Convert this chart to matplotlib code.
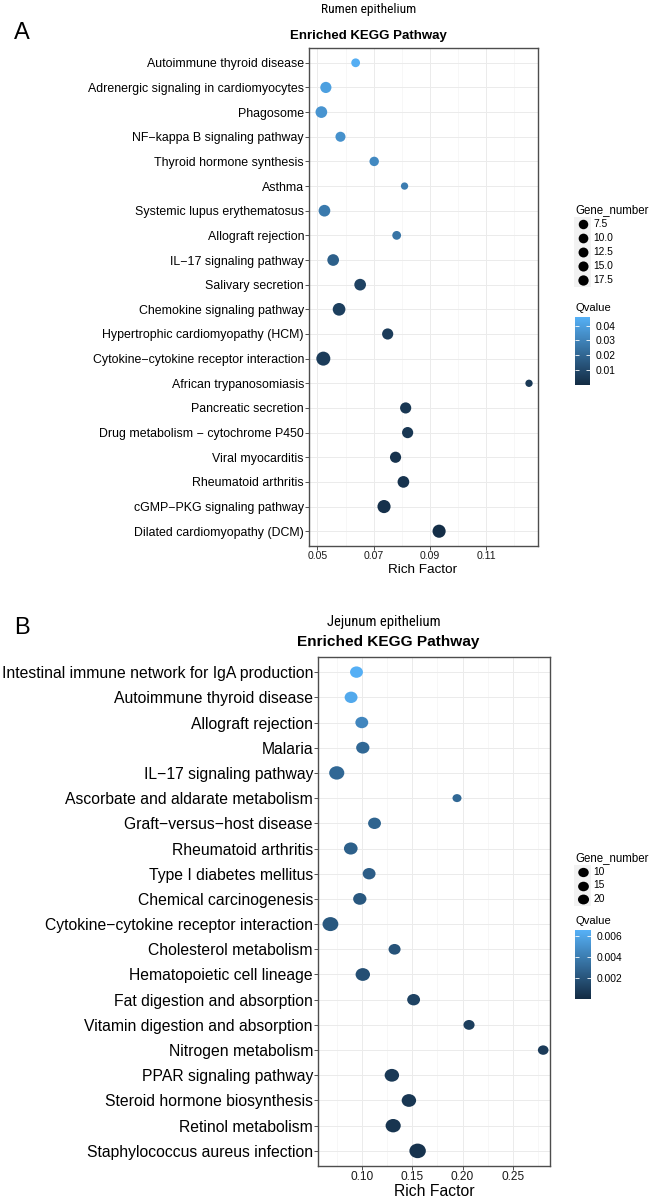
import matplotlib
matplotlib.use('Agg')
import matplotlib.pyplot as plt
import numpy as np
from matplotlib.colors import LinearSegmentedColormap, Normalize
from matplotlib.markers import MarkerStyle
from matplotlib.path import Path
from matplotlib.transforms import Affine2D
from matplotlib.cm import ScalarMappable
from matplotlib.patches import Rectangle
from matplotlib import font_manager

# ---------------- data ----------------
pathways_a = [
    "Autoimmune thyroid disease",
    "Adrenergic signaling in cardiomyocytes",
    "Phagosome",
    "NF\u2212kappa B signaling pathway",
    "Thyroid hormone synthesis",
    "Asthma",
    "Systemic lupus erythematosus",
    "Allograft rejection",
    "IL\u221217 signaling pathway",
    "Salivary secretion",
    "Chemokine signaling pathway",
    "Hypertrophic cardiomyopathy (HCM)",
    "Cytokine\u2212cytokine receptor interaction",
    "African trypanosomiasis",
    "Pancreatic secretion",
    "Drug metabolism \u2212 cytochrome P450",
    "Viral myocarditis",
    "Rheumatoid arthritis",
    "cGMP\u2212PKG signaling pathway",
    "Dilated cardiomyopathy (DCM)",
]
rich_a = [0.0636, 0.0530, 0.0514, 0.0582, 0.0702, 0.0810, 0.0525, 0.0782, 0.0556, 0.0652,
          0.0577, 0.0750, 0.0521, 0.1253, 0.0814, 0.0821, 0.0778, 0.0806, 0.0737, 0.0933]
genes_a = [8, 12, 13, 10, 9, 6, 13, 8, 13, 13, 15, 12, 18, 6, 12, 12, 12, 13, 16, 16]
q_a = [0.045, 0.040, 0.036, 0.035, 0.032, 0.028, 0.027, 0.025, 0.018, 0.008,
       0.007, 0.006, 0.006, 0.005, 0.004, 0.004, 0.003, 0.003, 0.002, 0.001]
xticks_a = [0.05, 0.07, 0.09, 0.11]
xtick_labels_a = ["0.05", "0.07", "0.09", "0.11"]
size_legend_a = [7.5, 10.0, 12.5, 15.0, 17.5]
size_legend_labels_a = ["7.5", "10.0", "12.5", "15.0", "17.5"]
q_ticks_a = [0.01, 0.02, 0.03, 0.04]
q_tick_labels_a = ["0.01", "0.02", "0.03", "0.04"]

pathways_b = [
    "Intestinal immune network for IgA production",
    "Autoimmune thyroid disease",
    "Allograft rejection",
    "Malaria",
    "IL\u221217 signaling pathway",
    "Ascorbate and aldarate metabolism",
    "Graft\u2212versus\u2212host disease",
    "Rheumatoid arthritis",
    "Type I diabetes mellitus",
    "Chemical carcinogenesis",
    "Cytokine\u2212cytokine receptor interaction",
    "Cholesterol metabolism",
    "Hematopoietic cell lineage",
    "Fat digestion and absorption",
    "Vitamin digestion and absorption",
    "Nitrogen metabolism",
    "PPAR signaling pathway",
    "Steroid hormone biosynthesis",
    "Retinol metabolism",
    "Staphylococcus aureus infection",
]
rich_b = [0.0942, 0.0888, 0.0995, 0.1005, 0.0745, 0.1945, 0.1122, 0.0885, 0.1068, 0.0975,
          0.0682, 0.1322, 0.1005, 0.1512, 0.2065, 0.2805, 0.1295, 0.1465, 0.1308, 0.1552]
genes_b = [13, 13, 13, 14, 19, 5, 13, 15, 13, 14, 21, 11, 17, 13, 9, 8, 17, 17, 19, 23]
q_b = [0.0065, 0.0062, 0.0045, 0.0030, 0.0030, 0.0030, 0.0028, 0.0026, 0.0025, 0.0022,
       0.0022, 0.0020, 0.0018, 0.0012, 0.0010, 0.0008, 0.0007, 0.0006, 0.0005, 0.0004]
xticks_b = [0.10, 0.15, 0.20, 0.25]
xtick_labels_b = ["0.10", "0.15", "0.20", "0.25"]
size_legend_b = [10, 15, 20]
size_legend_labels_b = ["10", "15", "20"]
q_ticks_b = [0.002, 0.004, 0.006]
q_tick_labels_b = ["0.002", "0.004", "0.006"]

# ---------------- style ----------------
W, H, DPI = 656, 1199, 100
plt.rcParams['font.family'] = ['Liberation Sans', 'DejaVu Sans']
cmap = LinearSegmentedColormap.from_list('gg', ['#132B43', '#56B1F7'])
PX = 0.72  # points per pixel at dpi 100

# pick a condensed face for the small sub-titles if one is installed
installed = {f.name for f in font_manager.fontManager.ttflist}
narrow_family = None
for cand in ['Liberation Sans Narrow', 'DejaVu Sans Condensed', 'Roboto Condensed',
             'Open Sans Condensed', 'Noto Sans Display']:
    if cand in installed:
        narrow_family = cand
        break
if narrow_family is None:
    NARROW = dict(family=['Liberation Sans', 'DejaVu Sans'])
    narrow_scale = 0.82
else:
    NARROW = dict(family=[narrow_family, 'Liberation Sans'])
    narrow_scale = 1.0

fig = plt.figure(figsize=(W / DPI, H / DPI), dpi=DPI)
fig.patch.set_facecolor('white')


def fx(px):
    return px / W


def fy(py):
    return 1 - py / H


def add_axes_px(x0, y0, x1, y1):
    return fig.add_axes([fx(x0), fy(y1), (x1 - x0) / W, (y1 - y0) / H])


circle = Path.unit_circle()
ellipse_path = Affine2D().scale(1.13, 1.0).transform_path(circle)
ellipse = MarkerStyle(ellipse_path)


def panel(box, labels, rich, genes, qs, xlim, xticks, xticklabels, minor, norm,
          size_fn, marker, ylab_fs, xtick_fs):
    ax = add_axes_px(*box)
    n = len(labels)
    ypos = np.arange(n, 0, -1)
    ax.scatter(rich, ypos, s=[size_fn(g) for g in genes], c=qs, cmap=cmap, norm=norm,
               marker=marker, linewidths=0, zorder=3)
    ax.set_xlim(*xlim)
    ax.set_ylim(0.4, n + 0.6)
    ax.set_yticks(ypos)
    ax.set_yticklabels(labels)
    ax.set_xticks(xticks)
    ax.set_xticklabels(xticklabels)
    ax.set_xticks(minor, minor=True)
    ax.tick_params(axis='x', which='minor', length=0)
    ax.tick_params(axis='both', which='major', length=2.6, width=0.6, color='#333333',
                   pad=1.0)
    ax.tick_params(axis='y', labelsize=ylab_fs, labelcolor='black')
    ax.tick_params(axis='x', labelsize=xtick_fs, labelcolor='#1a1a1a')
    ax.grid(True, which='major', color='#EBEBEB', linewidth=0.7)
    ax.grid(True, which='minor', axis='x', color='#F2F2F2', linewidth=0.4)
    ax.set_axisbelow(True)
    for sp in ax.spines.values():
        sp.set_color('#4d4d4d')
        sp.set_linewidth(1.0)
    return ax


def size_a(g):
    d = np.sqrt(11.9 * g - 18.0)
    return (PX * d) ** 2


def size_b(g):
    d = 1.13 * np.sqrt(8.25 * g + 22.75)
    return (PX * d) ** 2


norm_a = Normalize(vmin=0.0, vmax=0.046)
norm_b = Normalize(vmin=0.0, vmax=0.0066)

ax_a = panel((309, 48, 538, 546), pathways_a, rich_a, genes_a, q_a, (0.047, 0.1285),
             xticks_a, xtick_labels_a, [0.06, 0.08, 0.10, 0.12], norm_a, size_a, 'o',
             8.9, 7.6)
ax_b = panel((318, 657, 550, 1166), pathways_b, rich_b, genes_b, q_b, (0.0558, 0.2873),
             xticks_b, xtick_labels_b, [0.075, 0.125, 0.175, 0.225, 0.275], norm_b,
             size_b, ellipse, 11.3, 8.6)

# ---------------- titles / labels ----------------
fig.text(fx(22), fy(33), 'A', fontsize=17, ha='center', va='center')
fig.text(fx(369), fy(10), 'Rumen epithelium', fontsize=9.6 * narrow_scale,
         ha='center', va='center', **NARROW)
fig.text(fx(290), fy(36.5), 'Enriched KEGG Pathway', fontweight='bold', fontsize=9.5,
         ha='left', va='center')
fig.text(fx(423), fy(570), 'Rich Factor', fontsize=9.7, ha='center', va='center')

fig.text(fx(22), fy(628), 'B', fontsize=17, ha='center', va='center')
fig.text(fx(383.5), fy(621.7), 'Jejunum epithelium', fontsize=10.5 * narrow_scale,
         ha='center', va='center', **NARROW)
fig.text(fx(297), fy(641.7), 'Enriched KEGG Pathway', fontweight='bold', fontsize=11.1,
         ha='left', va='center')
fig.text(fx(434), fy(1191.5), 'Rich Factor', fontsize=11.3, ha='center', va='center')

# ---------------- legends ----------------
overlay = fig.add_axes([0, 0, 1, 1], zorder=5)
overlay.set_xlim(0, W)
overlay.set_ylim(H, 0)
overlay.axis('off')


def size_legend(title, title_y, first_y, step, values, labels, marker, base_d, grow):
    overlay.text(575, title_y, title, fontsize=8.3, ha='left', va='center')
    for i, (v, lab) in enumerate(zip(values, labels)):
        y = first_y + i * step
        overlay.add_patch(Rectangle((574, y - step / 2), 17, step, facecolor='#F2F2F2',
                                    edgecolor='none', zorder=1))
        d = base_d + grow * i
        overlay.scatter([582.5], [y], s=[(PX * d) ** 2], color='black', marker=marker,
                        linewidths=0, zorder=2)
        overlay.text(593, y, lab, fontsize=7.4, ha='left', va='center')


size_legend('Gene_number', 210, 224, 14, size_legend_a, size_legend_labels_a, 'o', 9.5, 0.2)
size_legend('Gene_number', 858, 872, 13.5, size_legend_b, size_legend_labels_b, ellipse, 10.5, 0.3)


def q_legend(title_y, box, norm, ticks, ticklabels):
    overlay.text(575, title_y, 'Qvalue', fontsize=8.1, ha='left', va='center')
    cax = add_axes_px(*box)
    cb = fig.colorbar(ScalarMappable(norm=norm, cmap=cmap), cax=cax)
    cb.outline.set_visible(False)
    cb.set_ticks(ticks, labels=ticklabels)
    cax.tick_params(axis='y', direction='in', length=3, width=0.6, color='white',
                    labelsize=7.4, pad=4, left=True, right=True)
    return cb


q_legend(308, (575, 316.7, 590, 385), norm_a, q_ticks_a, q_tick_labels_a)
q_legend(921, (575, 930, 591, 999), norm_b, q_ticks_b, q_tick_labels_b)

fig.savefig('out.png', dpi=DPI)
